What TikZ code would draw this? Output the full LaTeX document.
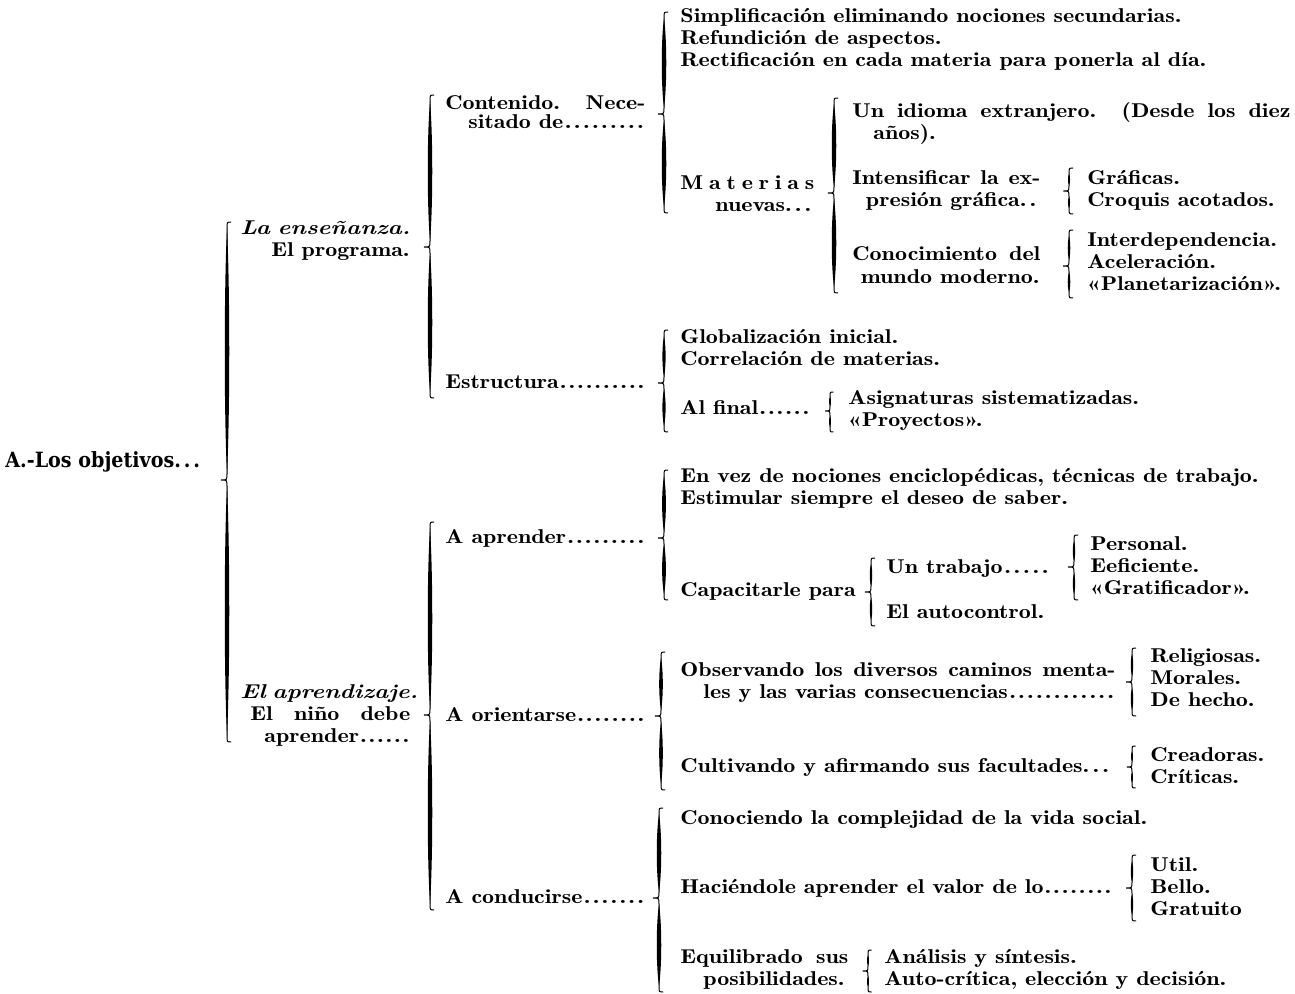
\documentclass[tikz,border=0pt]{standalone}
\usepackage{fontspec}
\setmainfont{lmromandemi10-regular.otf}[BoldFont=lmroman10-bold.otf,ItalicFont=lmroman10-bolditalic.otf,FakeStretch=1.2]
\newfontfamily\heavyfont{DejaVu Serif}[UprightFont=* Bold]
\newcommand{\dotsto}{\xleaders\hbox to 4.2pt{\hss.\hss}\hfill}
\newcommand{\dd}{.\kern1.6pt}
\newcommand{\jb}[2]{\hbox to #1{#2}}
\newcommand{\brc}[4]{%
 \pgfmathsetmacro{\bkr}{min(6,(#3-#2)/4)}%
 \pgfmathsetmacro{\bkya}{#2+\bkr}%
 \pgfmathsetmacro{\bkyb}{#3-\bkr}%
 \pgfmathsetmacro{\bkyc}{#3+\bkr}%
 \pgfmathsetmacro{\bkyd}{#4-\bkr}%
 \pgfmathsetmacro{\bkxe}{#1+\bkr*0.7}%
 \pgfmathsetmacro{\bkxt}{#1-\bkr}%
 \pgfmathsetmacro{\bkua}{\bkya+(\bkyb-\bkya)/4}%
 \pgfmathsetmacro{\bkub}{\bkya+3*(\bkyb-\bkya)/4}%
 \pgfmathsetmacro{\bkla}{\bkyc+(\bkyd-\bkyc)/4}%
 \pgfmathsetmacro{\bklb}{\bkyc+3*(\bkyd-\bkyc)/4}%
 \pgfmathsetmacro{\bkw}{min(3.0,0.8+(#3-#2)/40)}%
 \pgfmathsetmacro{\bkxl}{#1-\bkw}%
 \pgfmathsetmacro{\bkxr}{#1+\bkw}%
 \draw[brc] (\bkxe,#2) .. controls (#1,#2) .. (#1,\bkya) -- (#1,\bkyb) .. controls (#1,#3) .. (\bkxt,#3) .. controls (#1,#3) .. (#1,\bkyc) -- (#1,\bkyd) .. controls (#1,#4) .. (\bkxe,#4);
 \fill (#1,\bkya) .. controls (\bkxl,\bkua) and (\bkxl,\bkub) .. (#1,\bkyb) .. controls (\bkxr,\bkub) and (\bkxr,\bkua) .. cycle;
 \fill (#1,\bkyc) .. controls (\bkxl,\bkla) and (\bkxl,\bklb) .. (#1,\bkyd) .. controls (\bkxr,\bklb) and (\bkxr,\bkla) .. cycle;
}
\tikzset{
 txt/.style={inner sep=0pt, anchor=base west},
 txr/.style={inner sep=0pt, anchor=base east},
 brc/.style={line width=0.5pt}
}
\begin{document}
\begin{tikzpicture}[x=0.5pt,y=-0.5pt]
\fill[white] (0,0) rectangle (1295,994);
\useasboundingbox (0,0) rectangle (1295,994);
% level 1
\node[txt] (obj) at (5,467) {\scalebox{0.91}[1]{\heavyfont\fontsize{10.5}{12}\selectfont A.-Los objetivos\dd\dd\dd}};
\brc{227}{222}{480}{742}
% level 2
\node[txt] (ens1) at (240,235) {\jb{85pt}{\itshape La enseñanza.}};
\node[txr] (ens2) at (410,257) {El programa.};
\node[txt] (apr1) at (240,698) {\jb{85pt}{\itshape El aprendizaje.}};
\node[txt] (apr2) at (250,720) {\jb{80pt}{El niño debe}};
\node[txt] (apr3) at (264,742) {\jb{73pt}{aprender\dotsto}};
\brc{430}{95}{247}{398}
\brc{430}{522}{715}{910}
% level 3
\node[txt] (cont1) at (445,110) {\jb{100pt}{Contenido.\hfill Nece-}};
\node[txt] (cont2) at (468,129) {\jb{88.5pt}{sitado de\dotsto}};
\node[txt] (estr) at (445,388) {\jb{100pt}{Estructura\dotsto}};
\node[txt] (aapr) at (445,543) {\jb{100pt}{A aprender\dotsto}};
\node[txt] (aori) at (445,721) {\jb{100pt}{A orientarse\dotsto}};
\node[txt] (acon) at (445,903) {\jb{100pt}{A conducirse\dotsto}};
\brc{664}{12}{114}{213}
\brc{664}{330}{383}{432}
\brc{664}{470}{538}{600}
\brc{661}{652}{716}{790}
\brc{659}{808}{898}{992}
% Contenido
\node[txt] (simp) at (680,23) {Simplificación eliminando nociones secundarias.};
\node[txt] (refu) at (680,45) {Refundición de aspectos.};
\node[txt] (rect) at (680,67) {Rectificación en cada materia para ponerla al día.};
\node[txt] (mat1) at (680,190) {\jb{67pt}{M\hfil a\hfil t\hfil e\hfil r\hfil i\hfil a\hfil s}};
\node[txr] (mat2) at (815,212) {nuevas\dd\dd\dd};
\brc{834}{98}{193}{293}
\node[txt] (idi1) at (852,118) {\jb{219pt}{Un idioma extranjero. (Desde los diez}};
\node[txt] (idi2) at (873,140) {años).};
\node[txt] (int1) at (852,185) {\jb{94pt}{Intensificar la ex-}};
\node[txr] (int2) at (1040,207) {presión gráfica\dd\dd};
\brc{1069}{168}{191}{214}
\node[txt] (graf) at (1087,185) {Gráficas.};
\node[txt] (croq) at (1087,207) {Croquis acotados.};
\node[txt] (con1) at (852,261) {\jb{94pt}{Conocimiento del}};
\node[txr] (con2) at (1040,284) {mundo moderno.};
\brc{1069}{230}{266}{298}
\node[txt] (inte) at (1087,247) {Interdependencia.};
\node[txt] (acel) at (1087,269) {Aceleración.};
\node[txt] (plan) at (1087,291) {«Planetarización».};
% Estructura
\node[txt] (glob) at (680,344) {Globalización inicial.};
\node[txt] (corr) at (680,366) {Correlación de materias.};
\node[txt] (alfi) at (680,415) {\jb{65pt}{Al final\dotsto}};
\brc{830}{392}{411}{432}
\node[txt] (asig) at (848,405) {Asignaturas sistematizadas.};
\node[txt] (proy) at (848,427) {«Proyectos».};
% A aprender
\node[txt] (envz) at (680,482) {En vez de nociones enciclopédicas, técnicas de trabajo.};
\node[txt] (esti) at (680,504) {Estimular siempre el deseo de saber.};
\node[txt] (capa) at (680,596) {Capacitarle para};
\brc{871}{558}{592}{626}
\node[txt] (untr) at (886,573) {\jb{82pt}{Un trabajo\dotsto}};
\node[txt] (auto) at (886,618) {El autocontrol.};
\brc{1074}{535}{567}{600}
\node[txt] (pers) at (1090,550) {Personal.};
\node[txt] (efic) at (1090,572) {Eeficiente.};
\node[txt] (grat) at (1090,594) {«Gratificador».};
% A orientarse
\node[txt] (obs1) at (680,676) {\jb{217.5pt}{Observando los diversos caminos menta-}};
\node[txt] (obs2) at (703,698) {\jb{206pt}{les y las varias consecuencias\dotsto}};
\brc{1132}{648}{682}{716}
\node[txt] (reli) at (1150,662) {Religiosas.};
\node[txt] (mora) at (1150,684) {Morales.};
\node[txt] (dehe) at (1150,706) {De hecho.};
\node[txt] (cult) at (680,772) {Cultivando y afirmando sus facultades\dd\dd\dd};
\brc{1132}{746}{767}{788}
\node[txt] (crea) at (1150,761) {Creadoras.};
\node[txt] (crit) at (1150,783) {Críticas.};
% A conducirse
\node[txt] (cono) at (680,824) {Conociendo la complejidad de la vida social.};
\node[txt] (haci) at (680,893) {\jb{216pt}{Haciéndole aprender el valor de lo\dotsto}};
\brc{1132}{855}{888}{921}
\node[txt] (util) at (1150,871) {Util.};
\node[txt] (bell) at (1150,893) {Bello.};
\node[txt] (grtu) at (1150,915) {Gratuito};
\node[txt] (equ1) at (680,963) {\jb{84pt}{Equilibrado sus}};
\node[txt] (equ2) at (703,985) {posibilidades.};
\brc{868}{950}{971}{992}
\node[txt] (anal) at (884,963) {Análisis y síntesis.};
\node[txt] (aucr) at (884,985) {Auto-crítica, elección y decisión.};
\end{tikzpicture}
\end{document}
